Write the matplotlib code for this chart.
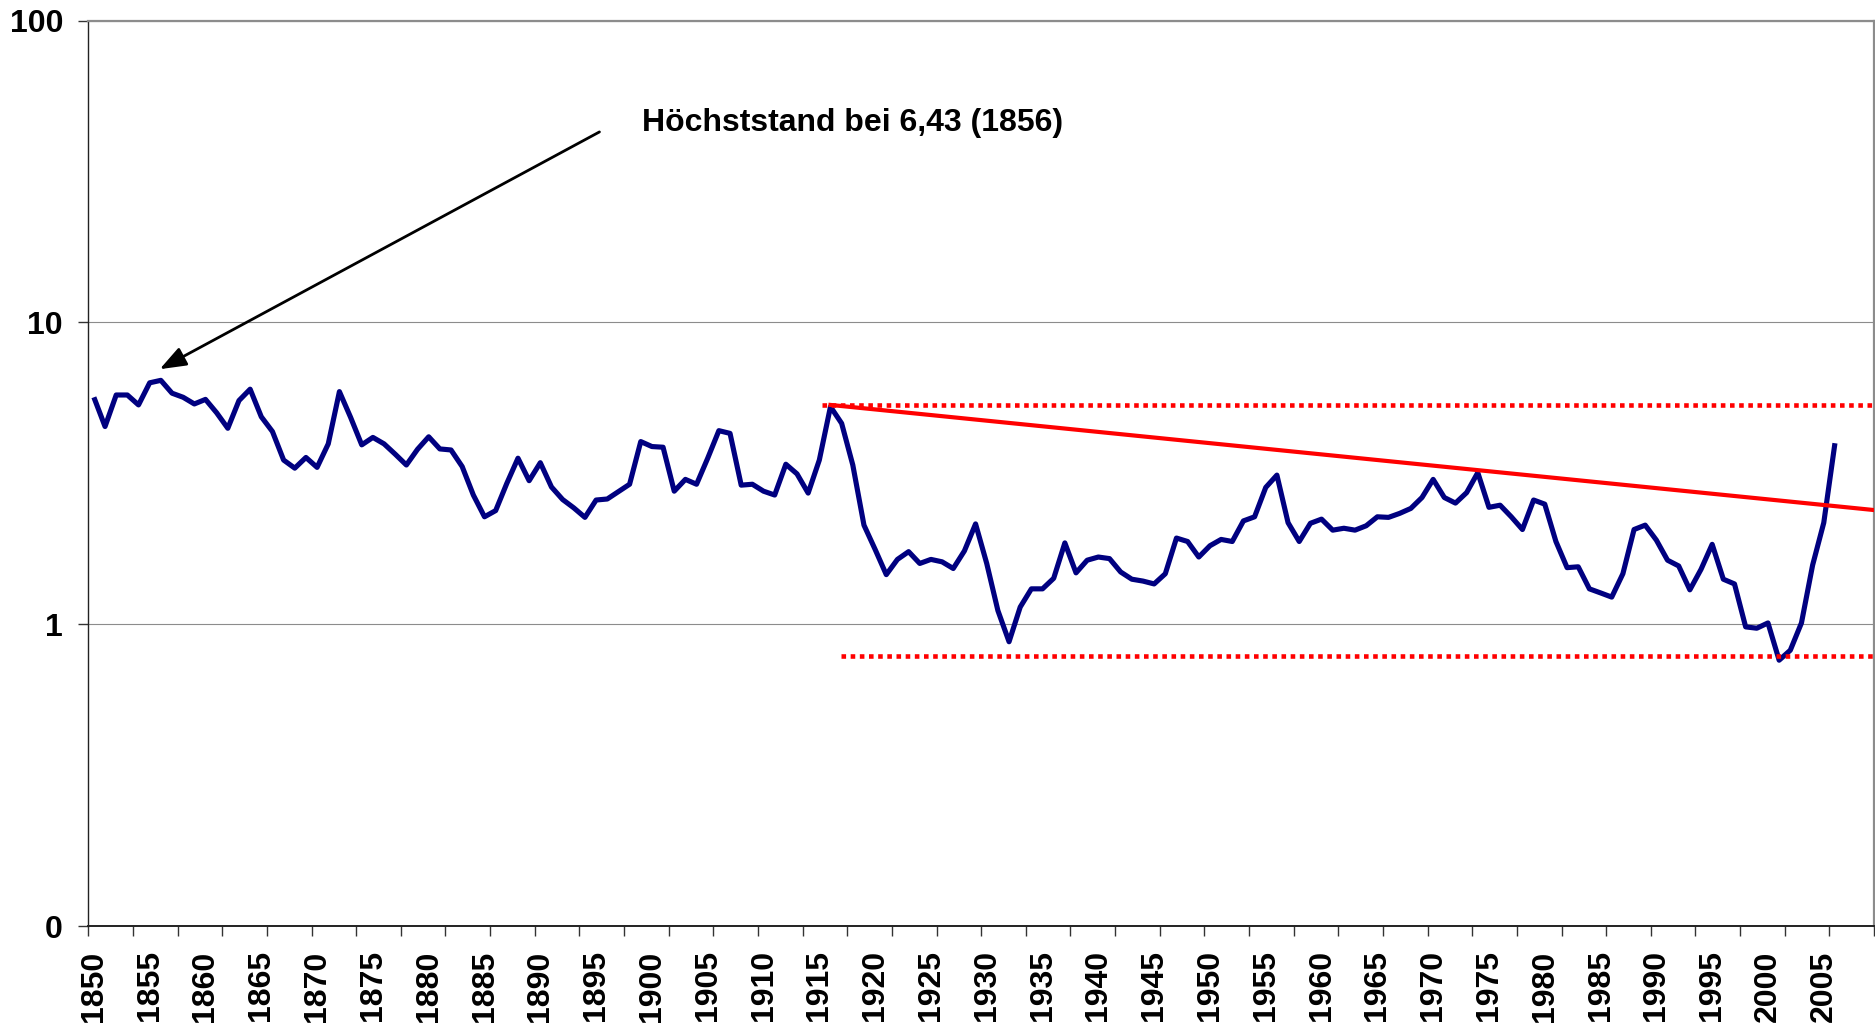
import matplotlib
matplotlib.use("Agg")
import matplotlib.pyplot as plt
from matplotlib.ticker import FixedLocator, NullLocator, FixedFormatter

plt.rcParams['font.family'] = ['Liberation Sans', 'DejaVu Sans']
plt.rcParams['font.weight'] = 'bold'

# ---- data -------------------------------------------------------------
first_year = 1850
values = [
    5.65, 4.52, 5.75, 5.75, 5.33, 6.31, 6.43, 5.83, 5.65, 5.37,   # 1850-1859
    5.56, 5.02, 4.46, 5.51, 6.01, 4.87, 4.35, 3.50, 3.29, 3.57,   # 1860-1869
    3.31, 3.96, 5.90, 4.85, 3.93, 4.16, 3.96, 3.66, 3.37, 3.80,   # 1870-1879
    4.18, 3.81, 3.78, 3.33, 2.68, 2.27, 2.38, 2.93, 3.55, 2.99,   # 1880-1889
    3.43, 2.85, 2.59, 2.43, 2.26, 2.58, 2.60, 2.75, 2.91, 4.03,   # 1890-1899
    3.88, 3.86, 2.76, 3.02, 2.91, 3.55, 4.38, 4.29, 2.89, 2.91,   # 1900-1909
    2.76, 2.68, 3.39, 3.15, 2.72, 3.50, 5.26, 4.63, 3.37, 2.13,   # 1910-1919
    1.77, 1.46, 1.64, 1.74, 1.59, 1.64, 1.61, 1.53, 1.75, 2.15,   # 1920-1929
    1.59, 1.11, 0.875, 1.14, 1.31, 1.31, 1.42, 1.86, 1.48, 1.63,  # 1930-1939
    1.67, 1.65, 1.49, 1.41, 1.39, 1.36, 1.47, 1.93, 1.88, 1.67,   # 1940-1949
    1.82, 1.91, 1.88, 2.20, 2.27, 2.84, 3.12, 2.17, 1.88, 2.16,   # 1950-1959
    2.23, 2.05, 2.08, 2.05, 2.12, 2.27, 2.26, 2.33, 2.42, 2.63,   # 1960-1969
    3.02, 2.63, 2.52, 2.73, 3.18, 2.44, 2.48, 2.27, 2.06, 2.58,   # 1970-1979
    2.50, 1.88, 1.54, 1.55, 1.31, 1.27, 1.23, 1.47, 2.06, 2.13,   # 1980-1989
    1.90, 1.63, 1.56, 1.30, 1.52, 1.84, 1.41, 1.36, 0.98, 0.97,   # 1990-1999
    1.01, 0.76, 0.82, 1.01, 1.57, 2.17, 3.98,                     # 2000-2006
]
years = list(range(first_year, first_year + len(values)))

last_category = 2009                       # category axis runs 1850..2009
label_years = list(range(1850, 2006, 5))
y_ticks = [0.1, 1, 10, 100]
y_tick_labels = ["0", "1", "10", "100"]

upper_level = 5.33                          # dotted resistance line
upper_start = 1915.2
lower_level = 0.787                         # dotted support line
lower_start = 1916.9
trend_x = [1916, last_category + 0.5]       # falling trend line
trend_y = [5.33, 2.39]

note_text = "Höchststand bei 6,43 (1856)"

# ---- figure -----------------------------------------------------------
W, H = 1875, 1028
fig = plt.figure(figsize=(W / 100, H / 100), dpi=100)
left, right, top, bottom = 88.3, 1874.0, 20.7, 926.0
ax = fig.add_axes([left / W, 1 - bottom / H, (right - left) / W, (bottom - top) / H])

ax.set_yscale('log')
ax.set_ylim(0.1, 100)
ax.set_xlim(first_year - 0.5, last_category + 0.5)

# grid
ax.yaxis.set_major_locator(FixedLocator(y_ticks))
ax.yaxis.set_major_formatter(FixedFormatter(y_tick_labels))
ax.yaxis.set_minor_locator(NullLocator())
ax.grid(True, axis='y', which='major', color='#8c8c8c', lw=0.8, zorder=0)

# main series
ax.plot(years, values, color='#000080', lw=3.7, zorder=3,
        solid_joinstyle='round', solid_capstyle='butt')

# red lines
ax.plot([upper_start, last_category + 0.5], [upper_level, upper_level],
        color='#ff0000', lw=3.3, linestyle=(0, (1, 1)), dash_capstyle='butt',
        zorder=4, clip_on=False)
ax.plot([lower_start, last_category + 0.5], [lower_level, lower_level],
        color='#ff0000', lw=3.3, linestyle=(0, (1, 1)), dash_capstyle='butt',
        zorder=4, clip_on=False)
ax.plot(trend_x, trend_y, color='#ff0000', lw=3.0, zorder=4)

# annotation
ax.annotate('', xy=(1855.9, 7.0), xytext=(1895.3, 42.8),
            arrowprops=dict(arrowstyle='-|>,head_length=0.8,head_width=0.3',
                            color='black', lw=2.0, mutation_scale=20,
                            shrinkA=0, shrinkB=0), zorder=5)
ax.text(1899.15, 45.8, note_text, fontsize=23, fontweight='bold',
        ha='left', va='center', color='black', zorder=5)

# x axis: labels on categories, tick marks every 4 categories between them
ax.xaxis.set_major_locator(FixedLocator(label_years))
ax.xaxis.set_major_formatter(FixedFormatter([str(y) for y in label_years]))
bounds = [first_year - 0.5 + 4 * k for k in range(0, (last_category - first_year + 1) // 4 + 1)]
ax.xaxis.set_minor_locator(FixedLocator(bounds))
ax.tick_params(axis='x', which='major', length=0, pad=17.5, labelsize=23,
               labelrotation=90)
ax.tick_params(axis='x', which='minor', length=7.2, width=1.0, color='#333333',
               direction='out')
ax.tick_params(axis='y', which='major', length=7.2, width=1.0, color='#333333',
               direction='out', pad=11, labelsize=23)
for lab in ax.get_xticklabels() + ax.get_yticklabels():
    lab.set_fontweight('bold')

# spines
ax.spines['left'].set_color('#222222')
ax.spines['left'].set_linewidth(1.0)
ax.spines['bottom'].set_color('#222222')
ax.spines['bottom'].set_linewidth(1.4)
ax.spines['top'].set_color('#8c8c8c')
ax.spines['top'].set_linewidth(1.6)
ax.spines['right'].set_color('#8c8c8c')
ax.spines['right'].set_linewidth(1.6)

fig.savefig('out.png', dpi=100, facecolor='white')
